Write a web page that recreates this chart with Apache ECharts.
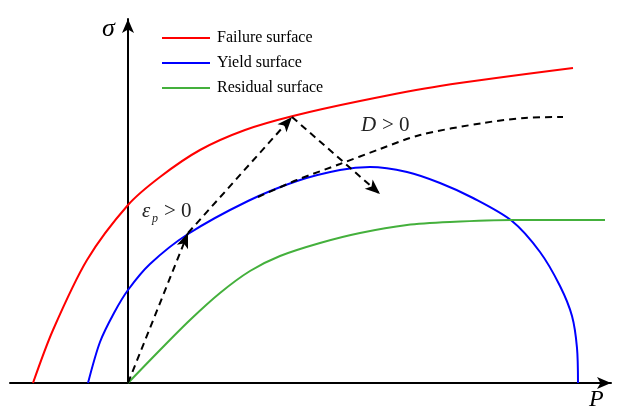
<!DOCTYPE html>
<html>
<head>
<meta charset="utf-8">
<script src="https://cdn.jsdelivr.net/npm/echarts@6/dist/echarts.min.js"></script>
<style>
html,body{margin:0;padding:0;background:#fff;}
#c{width:618px;height:412px;}
</style>
</head>
<body>
<div id="c"></div>
<script>
// Conceptual curves (x = P, y = sigma)
const failureSurface = [[-95,0],[-75,53],[-41,123],[0,178],[32,206],[72,233],[117,253],[165,267],[232,282],[312,297],[445,315]];
const yieldSurface = [[-40,0],[-28,41],[-14,70],[0,93],[22,119],[60,149],[120,182],[169,202],[212,213],[242,216],[279,211],[312,200],[345,185],[384,162],[412,131],[432,97],[444,67],[449,35],[450,0]];
const residualSurface = [[0,0],[32,33],[62,63],[92,90],[122,112],[152,127],[192,140],[232,150],[279,158],[322,161],[384,163],[477,163]];
const damageCurve = [[130,186],[169,203],[212,219],[252,234],[292,248],[355,260],[397,265],[435,266]];
// loading path arrows: [start, end]
const plasticArrow = [[0,0],[60,150]];
const failureArrow = [[60,150],[164,266]];
const damageArrow = [[164,266],[252,189]];
const legendNames = ['Failure surface','Yield surface','Residual surface'];

const chart = echarts.init(document.getElementById('c'), null, {renderer:'canvas'});
const serif = '"Liberation Serif","Times New Roman",serif';
const dash = {color:'#000', width:2, type:[7,5]};
const SM = 0.3;
function arrowLine(pair, curveness){
  return {
    silent:true, symbol:['none','arrow'], symbolSize:[9,15], label:{show:false},
    lineStyle:Object.assign({}, dash, {curveness:curveness||0}),
    data:[[{coord:pair[0]},{coord:pair[1]}]]
  };
}
chart.setOption({
  animation:false,
  backgroundColor:'#fff',
  grid:{left:10,right:7,top:19,bottom:29},
  xAxis:{type:'value',min:-118,max:483,
    axisLine:{onZero:true,lineStyle:{color:'#000',width:2},symbol:['none','arrow'],symbolSize:[9,14]},
    axisTick:{show:false},axisLabel:{show:false},splitLine:{show:false}},
  yAxis:{type:'value',min:0,max:364,
    axisLine:{onZero:true,lineStyle:{color:'#000',width:2},symbol:['none','arrow'],symbolSize:[9,14]},
    axisTick:{show:false},axisLabel:{show:false},splitLine:{show:false}},
  legend:{orient:'vertical',left:162,top:30,padding:0,icon:'rect',itemWidth:48,itemHeight:2,itemGap:9,
    data:legendNames,
    textStyle:{fontFamily:serif,fontSize:16,color:'#000',lineHeight:16,padding:[0,0,0,2]}},
  series:[
    {name:legendNames[0],type:'line',data:failureSurface,smooth:SM,symbol:'none',lineStyle:{color:'#ff0000',width:2},itemStyle:{color:'#ff0000'}},
    {name:legendNames[1],type:'line',data:yieldSurface,smooth:SM,symbol:'none',lineStyle:{color:'#0000ff',width:2},itemStyle:{color:'#0000ff'}},
    {name:legendNames[2],type:'line',data:residualSurface,smooth:SM,symbol:'none',lineStyle:{color:'#44b03c',width:2},itemStyle:{color:'#44b03c'}},
    {name:'damage',type:'line',data:damageCurve,smooth:SM,symbol:'none',lineStyle:dash,z:3,
      markLine:arrowLine(plasticArrow,0.06)},
    {name:'a2',type:'line',data:[],symbol:'none',markLine:arrowLine(failureArrow,0)},
    {name:'a3',type:'line',data:[],symbol:'none',markLine:arrowLine(damageArrow,0)}
  ],
  graphic:[
    {type:'text',x:102,y:29,style:{text:'σ',font:'italic 26px '+serif,fill:'#000',verticalAlign:'middle'}},
    {type:'text',x:589,y:400,style:{text:'P',font:'italic 24px '+serif,fill:'#000',verticalAlign:'middle'}},
    {type:'text',x:361,y:125,style:{text:'D',font:'italic 21px '+serif,fill:'#222',verticalAlign:'middle'}},
    {type:'text',x:382,y:125,style:{text:'> 0',font:'21px '+serif,fill:'#222',verticalAlign:'middle'}},
    {type:'text',x:142,y:211,style:{text:'ε',font:'italic 21px '+serif,fill:'#222',verticalAlign:'middle'}},
    {type:'text',x:152,y:219,style:{text:'p',font:'italic 12px '+serif,fill:'#222',verticalAlign:'middle'}},
    {type:'text',x:164,y:211,style:{text:'> 0',font:'21px '+serif,fill:'#222',verticalAlign:'middle'}}
  ]
});
</script>
</body>
</html>
